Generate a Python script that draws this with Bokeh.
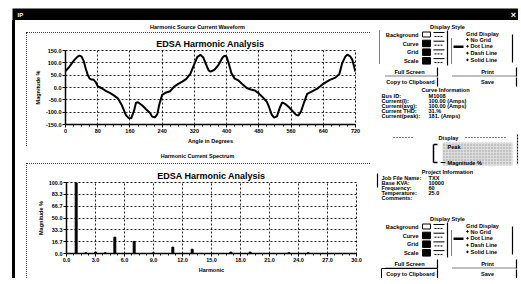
from bokeh.plotting import figure
from bokeh.models import FixedTicker, Range1d, Spacer, Title
from bokeh.layouts import row, column
from bokeh.embed import file_html
from bokeh.resources import INLINE
from bokeh.core.properties import value

FONT = "Liberation Sans"

# ---------------- data ----------------
angle_deg = [0, 10, 20, 30, 35, 40, 45, 50, 55, 60, 65, 70, 75, 80, 90, 100, 110, 120, 130, 140,
             150, 157, 163, 170, 175, 180, 190, 200, 210, 215, 222, 228, 233, 240, 250, 260, 270,
             280, 290, 300, 310, 318, 327, 335, 342, 350, 355,
             360, 370, 380, 390, 395, 400, 405, 412, 420, 428, 440, 450, 460, 470, 480, 490, 500,
             505, 512, 518, 525, 532, 538, 545, 555, 565, 572, 578, 585, 592, 600, 610, 625, 640,
             655, 670, 680, 687, 695, 700, 707, 712, 720]
magnitude_pct = [66, 85, 108, 125, 129, 125, 108, 78, 52, 36, 32, 31, 22, 5, -3, -14, -22, -32, -44, -72,
                 -112, -124, -125, -95, -62, -60, -72, -88, -103, -118, -121, -108, -68, -30, -20, -15, 4,
                 15, 24, 35, 55, 88, 123, 133, 122, 90, 70,
                 64, 72, 92, 122, 129, 124, 99, 58, 36, 30, 12, -2, -8, -12, -24, -40, -58,
                 -78, -110, -122, -117, -82, -60, -66, -80, -98, -110, -114, -96, -62, -26, -18, -5, 15,
                 30, 40, 55, 99, 126, 133, 126, 113, 64]
wave_x_ticks = [0, 80, 160, 240, 320, 400, 480, 560, 640, 720]
wave_x_minor = list(range(0, 721, 20))
wave_y_ticks = [-150, -100, -50, 0, 50, 100, 150]
wave_y_labels = ["-150.0", "-100.0", "-50.0", "0.0", "50.0", "100.0", "150.0"]

harmonic_order = [1, 2, 3, 4, 5, 7, 9, 11, 13, 17, 19, 23, 25]
harmonic_pct = [100, 1, 2, 1, 23, 17, 1, 9, 6, 2, 2, 1, 1]
spec_x_ticks = [0, 3, 6, 9, 12, 15, 18, 21, 24, 27, 30]
spec_x_labels = ["0.0", "3.0", "6.0", "9.0", "12.0", "15.0", "18.0", "21.0", "24.0", "27.0", "30.0"]
spec_x_minor = [i * 0.75 for i in range(41)]
spec_y_ticks = [0, 16.667, 33.333, 50, 66.667, 83.333, 100]
spec_y_labels = ["0.0", "16.7", "33.3", "50.0", "66.7", "83.3", "100.0"]

curve_labels = ["Bus ID:", "Current(I):", "Current(avg):", "Current THD:", "Current(peak):"]
curve_values = ["M1008", "100.00 (Amps)", "100.00 (Amps)", "31.%", "181. (Amps)"]
proj_labels = ["Job File Name:", "Base KVA:", "Frequency:", "Temperature:", "Comments:"]
proj_values = ["TXX", "10000", "60", "25.0", ""]

BOX_STYLE = {"outline": "1px dotted black", "outline-offset": "-1px"}


def chart(width, height, bl, br, bt, bb, xr, yr):
    p = figure(width=width, height=height, x_range=Range1d(*xr), y_range=Range1d(*yr),
               output_backend="svg", toolbar_location=None, styles=BOX_STYLE,
               min_border_left=bl, min_border_right=br, min_border_top=bt, min_border_bottom=bb)
    p.background_fill_color = "white"
    p.border_fill_color = "white"
    p.outline_line_color = "black"
    p.outline_line_dash = "2 2"
    p.outline_line_width = 1
    for ax in (p.xaxis[0], p.yaxis[0]):
        ax.axis_line_color = "black"
        ax.axis_line_width = 1.5
        ax.major_tick_line_color = "black"
        ax.minor_tick_line_color = "black"
        ax.major_tick_in = 0
        ax.minor_tick_in = 0
        ax.major_tick_out = 3
        ax.minor_tick_out = 2
        ax.major_label_text_font = FONT
        ax.major_label_text_font_size = "5.5px"
        ax.major_label_text_font_style = "bold"
        ax.major_label_text_color = "black"
        ax.major_label_standoff = 1
        ax.axis_label_text_font = FONT
        ax.axis_label_text_font_size = "5.5px"
        ax.axis_label_text_font_style = "bold"
        ax.axis_label_text_color = "black"
        ax.axis_label_standoff = 2
    p.yaxis[0].minor_tick_line_color = None
    for g in (p.xgrid[0], p.ygrid[0]):
        g.grid_line_color = "black"
        g.grid_line_dash = "2 2"
        g.grid_line_width = 1
        g.grid_line_alpha = 0.85
    p.add_layout(Title(text="EDSA Harmonic Analysis", align="center", offset=4, standoff=4,
                       text_font=FONT, text_font_size="9px", text_font_style="bold",
                       text_color="black"), "above")
    return p


def caption_fig(h, y_top, cx, cy, text):
    f = figure(width=358, height=h, x_range=Range1d(15, 373), y_range=Range1d(y_top + h, y_top),
               output_backend="svg", toolbar_location=None, min_border=0)
    f.axis.visible = False
    f.grid.visible = False
    f.outline_line_color = None
    f.background_fill_color = "white"
    f.border_fill_color = "white"
    f.text(x=[cx], y=[cy], text=[text], text_font=value(FONT), text_font_size="5.5px",
           text_font_style="bold", text_align="center", text_baseline="middle", text_color="black")
    return f


# ---------------- top chart: waveform ----------------
top = chart(344, 114, 39, 15, 18, 22, (0, 720), (-150, 150))
top.xaxis[0].ticker = FixedTicker(ticks=wave_x_ticks, minor_ticks=wave_x_minor)
top.yaxis[0].ticker = FixedTicker(ticks=wave_y_ticks)
top.yaxis[0].major_label_overrides = {t: s for t, s in zip(wave_y_ticks, wave_y_labels)}
top.xaxis[0].axis_label = "Angle in Degrees"
top.yaxis[0].axis_label = "Magnitude %"
top.line(angle_deg, magnitude_pct, line_color="black", line_width=2)

# ---------------- bottom chart: spectrum ----------------
bot = chart(344, 115, 40, 14, 19, 25, (0, 30), (0, 100))
bot.xaxis[0].ticker = FixedTicker(ticks=spec_x_ticks, minor_ticks=spec_x_minor)
bot.xaxis[0].major_label_overrides = {t: s for t, s in zip(spec_x_ticks, spec_x_labels)}
bot.yaxis[0].ticker = FixedTicker(ticks=spec_y_ticks)
bot.yaxis[0].major_label_overrides = {t: s for t, s in zip(spec_y_ticks, spec_y_labels)}
bot.xaxis[0].axis_label = "Harmonic"
bot.yaxis[0].axis_label = "Magnitude %"
bot.vbar(x=harmonic_order, top=harmonic_pct, width=0.2, fill_color="black", line_color="black")

cap1 = caption_fig(12, 20, 197, 26, "Harmonic Source Current Waveform")
cap2 = caption_fig(17, 146, 197, 155, "Harmonic Current Spectrum")

# ---------------- title bar ----------------
bar = figure(width=506, height=12, x_range=Range1d(12, 518), y_range=Range1d(20, 8),
             output_backend="svg", toolbar_location=None, min_border=0)
bar.axis.visible = False
bar.grid.visible = False
bar.outline_line_color = None
bar.background_fill_color = "black"
bar.border_fill_color = "black"
bar.text(x=[17], y=[14], text=["IP"], text_color="white", text_font=value(FONT),
         text_font_size="6px", text_font_style="bold", text_baseline="middle")
bar.text(x=[513], y=[14], text=["\u00d7"], text_color="white", text_font=value(FONT),
         text_font_size="9px", text_font_style="bold", text_align="center", text_baseline="middle")

# ---------------- right-hand control panel ----------------
pn = figure(width=148, height=258, x_range=Range1d(373, 521), y_range=Range1d(278, 20),
            output_backend="svg", toolbar_location=None, min_border=0)
pn.axis.visible = False
pn.grid.visible = False
pn.outline_line_color = None
pn.background_fill_color = "white"
pn.border_fill_color = "white"


def t(x, y, s, align="left", size="5.6px", color="black"):
    pn.text(x=[x], y=[y], text=[s], text_font=value(FONT), text_font_size=size,
            text_font_style="bold", text_align=align, text_baseline="middle", text_color=color)


def hl(x0, x1, y, dash="solid", w=1):
    pn.segment(x0=[x0], x1=[x1], y0=[y], y1=[y], line_color="black", line_width=w, line_dash=dash)


def vl(x, y0, y1, dash="solid", w=1):
    pn.segment(x0=[x], x1=[x], y0=[y0], y1=[y1], line_color="black", line_width=w, line_dash=dash)


def box(l, r, tp, b, fill="black", line="black"):
    pn.quad(left=[l], right=[r], top=[tp], bottom=[b], fill_color=fill, line_color=line, line_width=1)


def display_style(y0):
    t(447, y0, "Display Style", "center")
    rows = ["Background", "Curve", "Grid", "Scale"]
    for i, name in enumerate(rows):
        y = y0 + 8.5 + i * 8.7
        t(418, y, name, "right")
        if i == 0:
            box(422, 430, y - 3, y + 2, fill="white")
        else:
            box(422, 430, y - 3.5, y + 3)
        hl(433, 444, y - 2.5)
        hl(434, 443, y + 1.5, dash="2 1")
    vl(447, y0 + 4, y0 + 39, w=1.2)
    t(482, y0 + 7, "Grid Display", "center")
    opts = ["No Grid", "Dot Line", "Dash Line", "Solid Line"]
    for i, o in enumerate(opts):
        y = y0 + 13 + i * 6.8
        pn.scatter(x=[467], y=[y], size=1.5, color="black")
        t(470, y, o)
    pn.quad(left=[453], right=[463], top=[y0 + 19], bottom=[y0 + 21.5], fill_color="black", line_color=None)
    vl(451, y0 + 12, y0 + 38, dash="1 1")
    vl(512, y0 + 8, y0 + 36, w=1.2)


def buttons(y1, y2):
    t(409, y1, "Full Screen", "center")
    t(410, y2, "Copy to Clipboard", "center")
    t(487, y1, "Print", "center")
    t(487, y2, "Save", "center")
    hl(385, 437, y1 + 4.5, dash="1 1")
    hl(452, 516, y1 + 4.5, dash="1 1")
    vl(437, y1 - 4, y1 + 5, w=1.2)
    vl(437, y2 - 4, y2 + 5, w=1.2)
    vl(516, y1 - 4, y1 + 5, w=1.2)
    vl(516, y2 - 4, y2 + 5, w=1.2)


display_style(26)
vl(379, 30, 63, dash="1 1")
buttons(71, 81)

# curve information
t(445, 89, "Curve Information", "center")
for i, (a, b) in enumerate(zip(curve_labels, curve_values)):
    y = 95 + i * 5.2
    t(381, y, a, size="5.6px")
    t(428, y, b, size="5.6px")

# display group
t(448, 137, "Display", "center")
hl(393, 412, 137, dash="1 2")
hl(465, 507, 137, dash="1 2")
vl(517, 134, 164, dash="2 1", w=1.2)
pn.quad(left=[442], right=[512], top=[142], bottom=[165], fill_color="#dcdcdc",
        line_color=None, hatch_pattern="dot", hatch_color="#9a9a9a", hatch_scale=3)
vl(433, 144, 162, w=1.5)
hl(433, 437, 144, w=1.5)
hl(433, 437, 162, w=1.5)
t(447, 146, "Peak")
t(447, 162, "Magnitude %")
hl(440, 445, 162, w=1.2)

# project information
t(447, 171, "Project Information", "center")
vl(377, 173, 187, w=1.2)
for i, (a, b) in enumerate(zip(proj_labels, proj_values)):
    y = 177.5 + i * 4.9
    t(381, y, a, size="5.6px")
    t(428, y, b, size="5.6px")

display_style(218)
buttons(263, 273)
box(381, 437, 268, 278, fill=None)

left_col = column(
    cap1,
    row(Spacer(width=11, height=114), top, Spacer(width=3, height=114), spacing=0),
    cap2,
    row(Spacer(width=11, height=115), bot, Spacer(width=3, height=115), spacing=0),
    spacing=0)

layout = column(
    Spacer(width=521, height=8),
    row(Spacer(width=12, height=12), bar, spacing=0),
    row(Spacer(width=12, height=258),
        Spacer(width=3, height=258, styles={"background-color": "black"}),
        left_col,
        pn, spacing=0),
    spacing=0)

open("out.html", "w").write(file_html(layout, INLINE))
